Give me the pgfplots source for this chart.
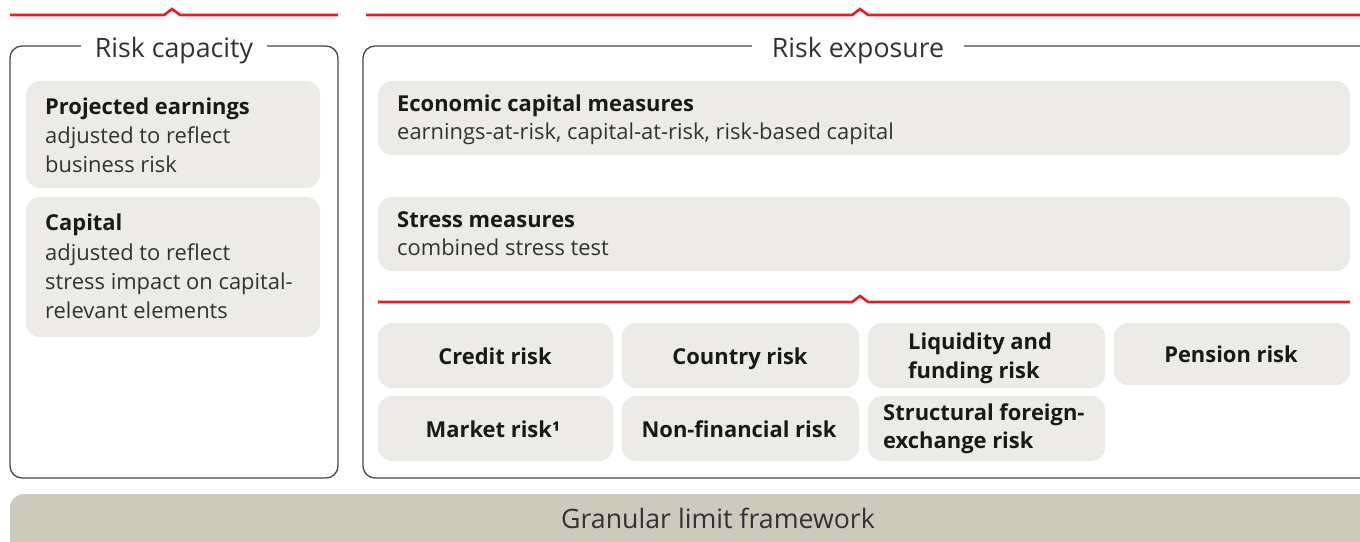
\documentclass[border=0pt]{standalone}
\usepackage{pgfplots}
\pgfplotsset{compat=1.18}
\usepackage{fontspec}
\setmainfont{Open Sans}
\definecolor{ubsred}{RGB}{224,32,38}
\definecolor{boxfill}{RGB}{236,235,231}
\definecolor{barfill}{RGB}{204,201,189}
\definecolor{framegray}{RGB}{70,70,70}
\definecolor{txt}{RGB}{50,50,50}
\newcommand{\reg}{\fontsize{22}{26}\selectfont}
\newcommand{\ttl}{\fontsize{26.8}{31}\selectfont}

\begin{document}
\begin{tikzpicture}
\begin{axis}[width=1360bp,height=542bp,scale only axis,hide axis,
  xmin=0,xmax=1360,ymin=0,ymax=542,y dir=reverse]
\coordinate (bl) at (0,542);
\coordinate (tr) at (1360,0);
% red header lines with notch
\draw[ubsred,line width=2.6bp] (10,15) -- (164,15) -- (172,9) -- (180,15) -- (338,15);
\draw[ubsred,line width=2.6bp] (366,15) -- (852,15) -- (860,9) -- (868,15) -- (1370,15);
\draw[ubsred,line width=2.6bp] (378,302) -- (852,302) -- (860,296) -- (868,302) -- (1350,302);
% outer frames
\draw[framegray,line width=1.3bp,rounded corners=12bp] (10,46) rectangle (338,478);
\draw[framegray,line width=1.3bp,rounded corners=12bp] (363,46) rectangle (1375,478);
\node[fill=white,inner xsep=14bp,inner ysep=2bp,anchor=base,text=txt,font=\ttl] at (174,58) {Risk capacity};
\node[fill=white,inner xsep=20bp,inner ysep=2bp,anchor=base,text=txt,font=\ttl] at (858,58) {Risk exposure};
% grey boxes
\fill[boxfill,rounded corners=14bp] (26,81) rectangle (320,188);
\fill[boxfill,rounded corners=14bp] (26,197) rectangle (320,337);
\fill[boxfill,rounded corners=14bp] (378,81) rectangle (1350,155);
\fill[boxfill,rounded corners=14bp] (378,197) rectangle (1350,271);
\fill[boxfill,rounded corners=14bp] (378,323) rectangle (613,388);
\fill[boxfill,rounded corners=14bp] (622,323) rectangle (859,388);
\fill[boxfill,rounded corners=14bp] (868,323) rectangle (1105,388);
\fill[boxfill,rounded corners=14bp] (1114,323) rectangle (1350,385);
\fill[boxfill,rounded corners=14bp] (378,396) rectangle (613,461);
\fill[boxfill,rounded corners=14bp] (622,396) rectangle (859,461);
\fill[boxfill,rounded corners=14bp] (868,396) rectangle (1105,461);
\fill[barfill,rounded corners=14bp] (10,494) rectangle (1375,560);
% texts
\begin{scope}[every node/.style={inner sep=0pt,text=txt,font=\reg}]
\node[anchor=base west,font=\reg\bfseries,text=black!90] at (45,114) {Projected earnings};
\node[anchor=base west] at (45,143) {adjusted to reflect};
\node[anchor=base west] at (45,172) {business risk};
\node[anchor=base west,font=\reg\bfseries,text=black!90] at (45,230) {Capital};
\node[anchor=base west] at (45,260) {adjusted to reflect};
\node[anchor=base west] at (45,289) {stress impact on capital-};
\node[anchor=base west] at (45,318) {relevant elements};
\node[anchor=base west,font=\reg\bfseries,text=black!90] at (397,111) {Economic capital measures};
\node[anchor=base west] at (397,139) {earnings-at-risk, capital-at-risk, risk-based capital};
\node[anchor=base west,font=\reg\bfseries,text=black!90] at (397,227) {Stress measures};
\node[anchor=base west] at (397,255) {combined stress test};
\node[anchor=base,font=\reg\bfseries,text=black!90] at (495,364) {Credit risk};
\node[anchor=base,font=\reg\bfseries,text=black!90] at (740,364) {Country risk};
\node[anchor=base west,font=\reg\bfseries,text=black!90] at (908,349) {Liquidity and};
\node[anchor=base west,font=\reg\bfseries,text=black!90] at (908,378) {funding risk};
\node[anchor=base,font=\reg\bfseries,text=black!90] at (1231,362) {Pension risk};
\node[anchor=base,font=\reg\bfseries,text=black!90] at (493,437) {Market risk¹};
\node[anchor=base,font=\reg\bfseries,text=black!90] at (739,437) {Non-financial risk};
\node[anchor=base west,font=\reg\bfseries,text=black!90] at (883,420) {Structural foreign-};
\node[anchor=base west,font=\reg\bfseries,text=black!90] at (883,448) {exchange risk};
\node[anchor=base,font=\ttl] at (718,528) {Granular limit framework};
\end{scope}
\end{axis}
\pgfresetboundingbox
\path[use as bounding box] (bl) rectangle (tr);
\end{tikzpicture}
\end{document}
